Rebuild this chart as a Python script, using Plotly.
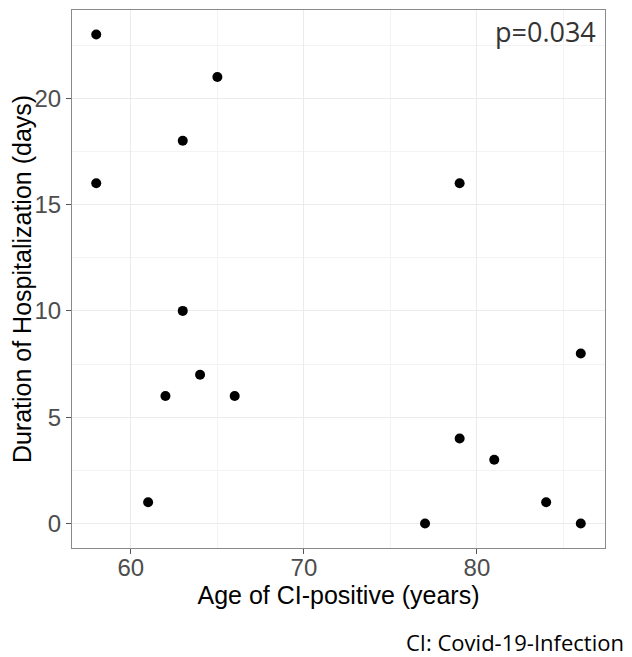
import plotly.graph_objects as go

age = [58, 58, 65, 63, 63, 64, 62, 66, 61, 79, 77, 79, 81, 84, 86, 86]
days = [23, 16, 21, 18, 10, 7, 6, 6, 1, 16, 0, 4, 3, 1, 8, 0]
x_ticks = [60, 70, 80]
y_ticks = [0, 5, 10, 15, 20]
p_label = "p=0.034"
caption = "CI: Covid-19-Infection"
x_title = "Age of CI-positive (years)"
y_title = "Duration of Hospitalization (days)"

fig = go.Figure()
fig.add_trace(go.Scatter(
    x=age, y=days, mode="markers",
    marker=dict(color="black", size=10, line=dict(width=0)),
    showlegend=False, hoverinfo="x+y",
))

grid_major = "#EBEBEB"
grid_minor = "#F3F3F3"
axis_common = dict(
    showline=True, linecolor="#8A8A8A", linewidth=1.2, mirror=True,
    ticks="outside", ticklen=5, tickcolor="#555555", tickwidth=1.2,
    showgrid=True, gridcolor=grid_major, gridwidth=1.2,
    zeroline=False, automargin=False,
    tickfont=dict(family="Liberation Sans, Arial", size=24, color="#4D4D4D"),
    title_font=dict(family="Liberation Sans, Arial", size=25, color="black"),
)

fig.update_xaxes(
    range=[56.6, 87.4], tickvals=x_ticks,
    minor=dict(dtick=5, tick0=0, showgrid=True, gridcolor=grid_minor, gridwidth=1, ticks=""),
    title_text=x_title, title_standoff=2, ticklabelstandoff=-7,
    **axis_common,
)
fig.update_yaxes(
    range=[-1.15, 24.15], tickvals=y_ticks,
    minor=dict(dtick=2.5, tick0=0, showgrid=True, gridcolor=grid_minor, gridwidth=1, ticks=""),
    title_text=y_title, title_standoff=5, ticklabelstandoff=0,
    **axis_common,
)

# page body adds an 8px offset; size the figure so the panel lands where the reference has it
W, H = 624, 649
ml, mr, mt, mb = 64, 27, 2, 109
panel_w = W - ml - mr
panel_h = H - mt - mb

fig.add_annotation(
    x=1, y=1, xref="paper", yref="paper", xanchor="right", yanchor="top",
    xshift=-7, yshift=-1,
    text=p_label, showarrow=False,
    font=dict(family="Open Sans", size=27, color="#333333"),
)
fig.add_annotation(
    x=1.0 + 21 / panel_w, y=-(642 - 548) / panel_h, xref="paper", yref="paper",
    xanchor="right", yanchor="middle",
    text=caption, showarrow=False,
    font=dict(family="Open Sans", size=22, color="black"),
)

fig.update_layout(
    width=W, height=H,
    margin=dict(l=ml, r=mr, t=mt, b=mb),
    plot_bgcolor="white", paper_bgcolor="white",
)

fig.write_html("out.html")
